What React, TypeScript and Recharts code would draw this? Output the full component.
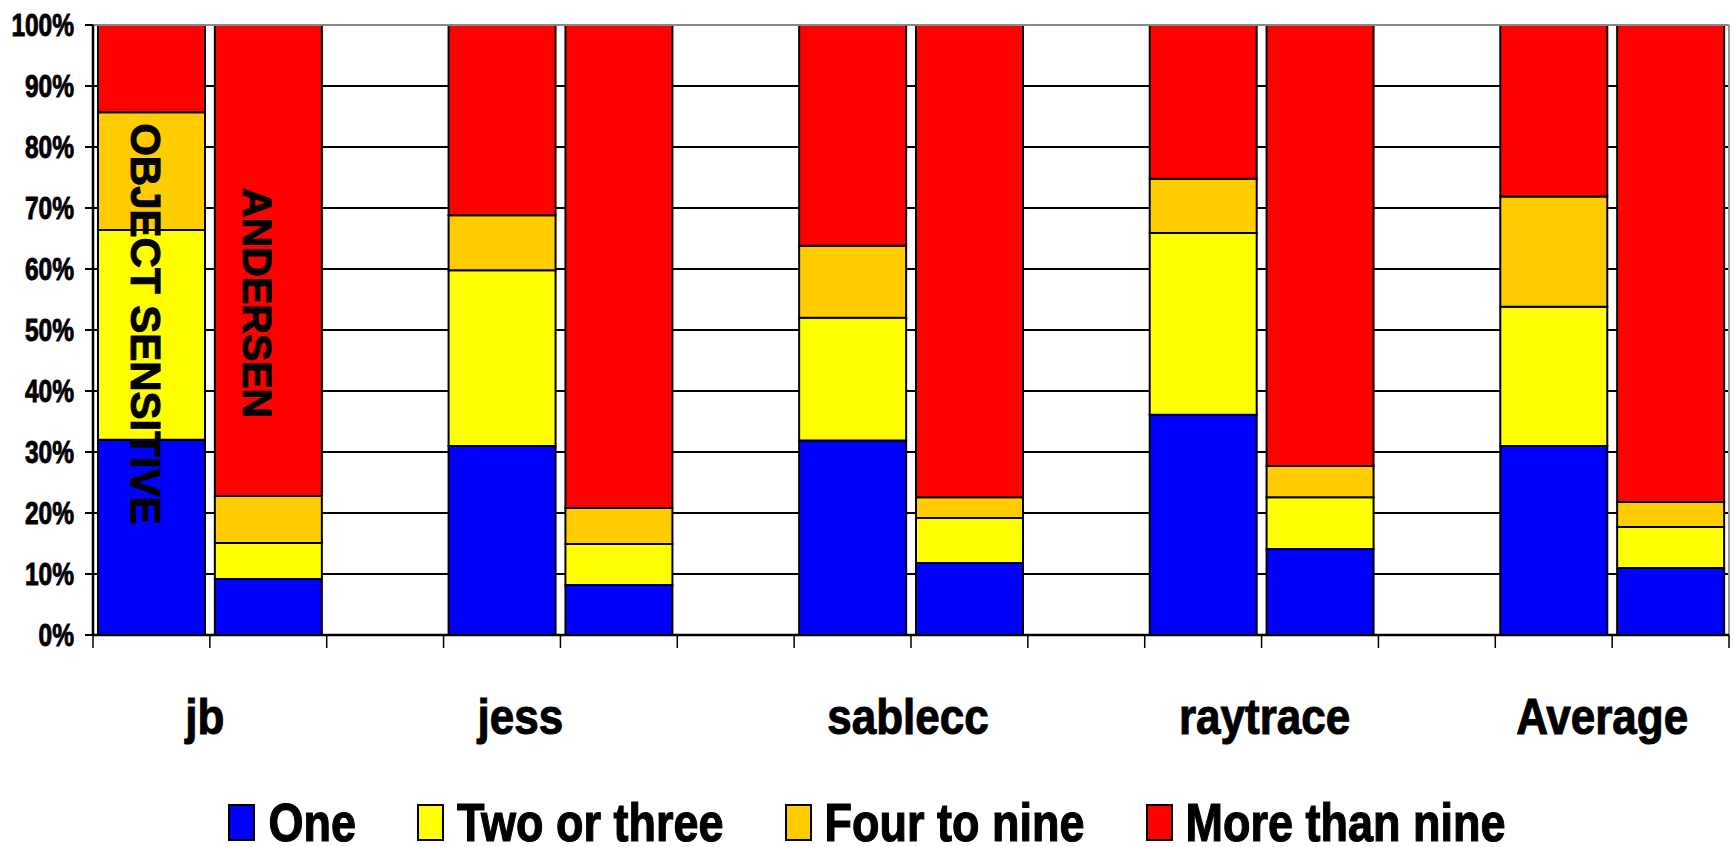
import React from 'react';
import {
  BarChart,
  Bar,
  XAxis,
  YAxis,
  CartesianGrid,
  Legend,
  ReferenceLine,
  ReferenceDot,
} from 'recharts';

// 14 slots: [OS, Andersen, gap] x 4 + [OS, Andersen]
const slotPositions = [0.5, 1.5, 2.5, 3.5, 4.5, 5.5, 6.5, 7.5, 8.5, 9.5, 10.5, 11.5, 12.5, 13.5];
const one = [32.0, 9.2, null, 31.0, 8.2, null, 31.9, 11.8, null, 36.1, 14.1, null, 31.0, 11.0];
const twoOrThree = [34.4, 5.9, null, 28.8, 6.7, null, 20.1, 7.4, null, 29.8, 8.5, null, 22.8, 6.7];
const fourToNine = [19.3, 7.7, null, 9.0, 5.9, null, 11.8, 3.4, null, 8.9, 5.1, null, 18.1, 4.1];
const moreThanNine = [14.3, 77.2, null, 31.2, 79.2, null, 36.2, 77.4, null, 25.2, 72.3, null, 28.1, 78.2];

const groupNames = ['jb', 'jess', 'sablecc', 'raytrace', 'Average'];
const groupTickPositions = [1, 4, 7, 10, 13];
const groupLabelShift = [-5, -40, -3, 3, -10];
const xTicks = [0, 1, 2, 3, 4, 5, 6, 7, 8, 9, 10, 11, 12, 13, 14];
const yTicks = [0, 10, 20, 30, 40, 50, 60, 70, 80, 90, 100];

const seriesKeys = ['one', 'two', 'four', 'more'];
const seriesNames = ['One', 'Two or three', 'Four to nine', 'More than nine'];
const seriesColors = ['#0000FF', '#FFFF00', '#FFCC00', '#FF0000'];

const annotations = [
  { text: 'OBJECT SENSITIVE', x: 0.45, y: 51, size: 42 },
  { text: 'ANDERSEN', x: 1.4, y: 54.4, size: 41 },
];

const data = slotPositions.map((pos, i) => ({
  pos,
  one: one[i],
  two: twoOrThree[i],
  four: fourToNine[i],
  more: moreThanNine[i],
}));

const FONT = '"Liberation Sans", Arial, Helvetica, sans-serif';

const YTick = (props: any) => {
  const { x, y, payload } = props;
  return (
    <text
      transform={`translate(${x},${y + 11}) scale(0.79,1)`}
      textAnchor="end"
      fontSize={31}
      fontWeight="bold"
      fontFamily={FONT}
      fill="#000"
      stroke="#000"
      strokeWidth={0.9}
    >
      {payload.value}%
    </text>
  );
};

const XTick = (props: any) => {
  const { x, y, payload } = props;
  const idx = groupTickPositions.indexOf(payload.value);
  if (idx < 0) return <g />;
  return (
    <text
      transform={`translate(${x + groupLabelShift[idx]},${y + 86}) scale(1,1.14)`}
      textAnchor="middle"
      fontSize={44}
      fontWeight="bold"
      fontFamily={FONT}
      fill="#000"
      stroke="#000"
      strokeWidth={0.9}
    >
      {groupNames[idx]}
    </text>
  );
};

const renderLegend = () => {
  return (
    <div
      style={{
        display: 'flex',
        justifyContent: 'center',
        alignItems: 'center',
        width: '100%',
        fontFamily: FONT,
      }}
    >
      {seriesNames.map((name, i) => (
        <div
          key={seriesKeys[i]}
          style={{
            display: 'flex',
            alignItems: 'center',
            marginRight: i < seriesNames.length - 1 ? 61 : 0,
          }}
        >
          <div
            style={{
              width: 23,
              height: 33,
              background: seriesColors[i],
              border: '2px solid #000',
              marginRight: 13,
            }}
          />
          <span
            style={{
              display: 'inline-block',
              fontSize: 45,
              fontWeight: 'bold',
              color: '#000',
              transform: 'scaleY(1.18)',
              lineHeight: '34px',
              whiteSpace: 'nowrap',
              WebkitTextStroke: '1px #000',
            }}
          >
            {name}
          </span>
        </div>
      ))}
    </div>
  );
};

const RotatedLabel = (text: string, size: number) => (props: any) => {
  const { cx, cy } = props;
  return (
    <text
      x={cx}
      y={cy}
      transform={`rotate(90, ${cx}, ${cy})`}
      textAnchor="middle"
      dominantBaseline="central"
      fontSize={size}
      fontWeight="bold"
      fontFamily={FONT}
      fill="#000"
      stroke="#000"
      strokeWidth={1}
    >
      {text}
    </text>
  );
};

export default function App() {
  return (
    <div style={{ position: 'absolute', left: 0, top: 0, width: 1734, height: 847, background: '#fff' }}>
      <BarChart
        width={1734}
        height={847}
        data={data}
        margin={{ top: 25, right: 5, left: 0, bottom: 0 }}
      >
        <CartesianGrid vertical={false} stroke="#000" strokeWidth={2} />
        <XAxis
          dataKey="pos"
          type="number"
          domain={[0, 14]}
          ticks={xTicks}
          interval={0}
          height={212}
          tick={<XTick />}
          tickSize={13}
          tickMargin={0}
          axisLine={{ stroke: '#000', strokeWidth: 2.5 }}
          tickLine={{ stroke: '#000', strokeWidth: 1.5 }}
        />
        <YAxis
          type="number"
          domain={[0, 100]}
          ticks={yTicks}
          interval={0}
          width={93}
          tick={<YTick />}
          tickSize={8}
          tickMargin={11}
          axisLine={{ stroke: '#000', strokeWidth: 2.5 }}
          tickLine={{ stroke: '#000', strokeWidth: 2 }}
        />
        <ReferenceLine y={100} stroke="#888" strokeWidth={2} />
        <ReferenceLine x={14} stroke="#999" strokeWidth={2} />
        {seriesKeys.map((k, i) => (
          <Bar
            key={k}
            dataKey={k}
            name={seriesNames[i]}
            stackId="a"
            fill={seriesColors[i]}
            stroke="#000"
            strokeWidth={2}
            barSize={107}
            isAnimationActive={false}
          />
        ))}
        {annotations.map((a, i) => (
          <ReferenceDot key={i} x={a.x} y={a.y} r={0} shape={RotatedLabel(a.text, a.size)} />
        ))}
        <Legend
          verticalAlign="bottom"
          content={renderLegend}
          wrapperStyle={{ position: 'absolute', left: 0, top: 804, width: 1734, height: 0 }}
        />
      </BarChart>
    </div>
  );
}
